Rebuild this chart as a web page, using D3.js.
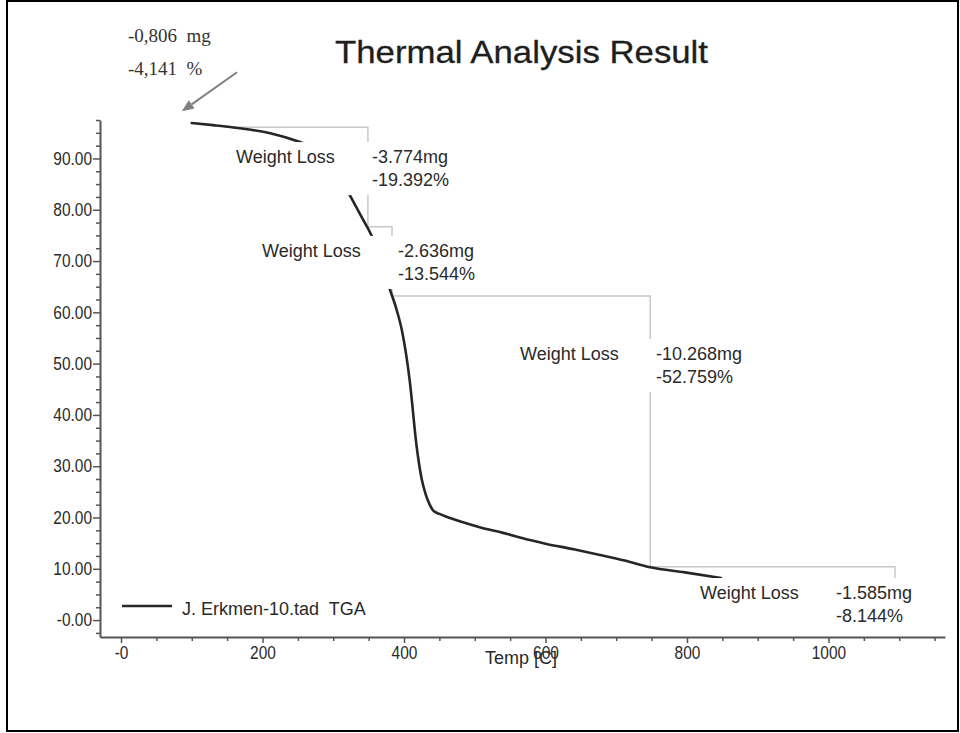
<!DOCTYPE html>
<html>
<head>
<meta charset="utf-8">
<script src="https://cdn.jsdelivr.net/npm/d3@7"></script>
<style>
  html, body { margin: 0; padding: 0; background: #fff; }
  svg { display: block; font-family: "Liberation Sans", Arial, sans-serif; }
</style>
</head>
<body>
<svg id="chart" width="960" height="733"></svg>
<script>
// TGA run: sample temperature (°C) and remaining mass (%)
const temps   = [100, 130, 168, 211, 253, 270, 290, 305, 324, 340, 355, 368, 380, 390, 397, 408, 418, 425, 430, 436, 441, 450, 461, 480, 507, 540, 578, 600, 640, 677, 712, 748, 797, 848];
const weights = [96.9, 96.5, 95.9, 94.9, 93.2, 92.3, 90.2, 87.6, 82.7, 78.6, 74.7, 69.8, 64.5, 60.3, 56.5, 46.8, 33.7, 27.5, 24.8, 22.6, 21.4, 20.7, 20.1, 19.2, 18.1, 17.0, 15.6, 14.9, 13.8, 12.7, 11.6, 10.3, 9.3, 8.2];

// Axis ticks
const yMajorTicks = [0, 10, 20, 30, 40, 50, 60, 70, 80, 90];
const xMajorTicks = [0, 200, 400, 600, 800, 1000];

// Weight-loss steps: analysed temperature ranges and the reported losses
const stepFrom      = [147, 349, 383, 748];
const stepTo        = [349, 383, 748, 1094];
const stepStartMass = 96.1;
const stepLossMg    = ["-3.774mg", "-2.636mg", "-10.268mg", "-1.585mg"];
const stepLossPct   = [19.392, 13.544, 52.759, 8.144];

// Hand-written note on the initial (moisture) loss
const initialLossMg  = "-0,806  mg";
const initialLossPct = "-4,141  %";

const seriesName = "J. Erkmen-10.tad  TGA";
const chartTitle = "Thermal Analysis Result";
const xTitle = "Temp [C]";

// ---- layout ----
const labelAt    = [354.8, 391.5, 756.2, 1010.6]; // °C where each value column starts
const labelLevel = [89.1, 70.8, 50.7, 4.1];       // mass level of each first text line
const lineGap = 23;
const condense = 0.86;
const textColor = "#2a2a2a";

const svg = d3.select("#chart");
const x = d3.scaleLinear().domain([-29.7, 1164.7]).range([100, 945]);
const y = d3.scaleLinear().domain([-3.3, 97.5]).range([637, 120]);

// outer frame
svg.append("rect")
  .attr("x", 7).attr("y", 1).attr("width", 951).attr("height", 730)
  .attr("fill", "none").attr("stroke", "#000").attr("stroke-width", 2);

// title
svg.append("text")
  .attr("x", 335).attr("y", 63)
  .attr("font-size", 32).attr("fill", "#1e1e1e")
  .attr("stroke", "#1e1e1e").attr("stroke-width", 0.3)
  .attr("textLength", 373).attr("lengthAdjust", "spacingAndGlyphs")
  .text(chartTitle);

// ---- axes ----
const axisColor = "#555";
const yMinor = d3.range(-2.5, 97.6, 2.5).filter(v => Math.abs(v % 10) > 1e-6);
const xMinor = d3.range(0, 1151, 50).filter(v => v % 200 !== 0);

function styleAxis(g) {
  g.attr("font-family", "'Liberation Sans', Arial, sans-serif").attr("font-size", 18);
  g.select(".domain").attr("stroke", axisColor).attr("stroke-width", 2);
  g.selectAll(".tick line").attr("stroke", axisColor).attr("stroke-width", 1.5);
  g.selectAll(".tick text").attr("fill", textColor);
}

const yMinorG = svg.append("g").attr("transform", "translate(100,0)")
  .call(d3.axisLeft(y).tickValues(yMinor).tickSize(4).tickSizeOuter(0).tickFormat(""));
yMinorG.select(".domain").remove();
styleAxis(yMinorG);

const yAxisG = svg.append("g").attr("transform", "translate(100,0)")
  .call(d3.axisLeft(y).tickValues(yMajorTicks).tickSize(7).tickSizeOuter(0).tickPadding(1)
    .tickFormat(d => d === 0 ? "-0.00" : d3.format(".2f")(d)));
styleAxis(yAxisG);
yAxisG.selectAll(".tick text")
  .attr("x", -8 / condense)
  .attr("transform", `scale(${condense},1)`);

const xMinorG = svg.append("g").attr("transform", "translate(0,637)")
  .call(d3.axisBottom(x).tickValues(xMinor).tickSize(4).tickSizeOuter(0).tickFormat(""));
xMinorG.select(".domain").remove();
styleAxis(xMinorG);

const xAxisG = svg.append("g").attr("transform", "translate(0,637)")
  .call(d3.axisBottom(x).tickValues(xMajorTicks).tickSize(6).tickSizeOuter(0).tickPadding(3)
    .tickFormat(d => d === 0 ? "-0" : String(d)));
styleAxis(xAxisG);
xAxisG.selectAll(".tick text").attr("transform", `scale(${condense},1)`);

// x-axis title
svg.append("text")
  .attr("x", 521).attr("y", 664)
  .attr("text-anchor", "middle")
  .attr("font-size", 18).attr("fill", textColor)
  .text(xTitle);

// ---- weight-loss brackets ----
const levels = [stepStartMass];
stepLossPct.forEach((p, i) => levels.push(levels[i] - p));

svg.append("g").selectAll("path")
  .data(stepFrom)
  .join("path")
  .attr("d", (d, i) => `M${x(d)},${y(levels[i])}H${x(stepTo[i])}V${y(levels[i + 1])}`)
  .attr("fill", "none")
  .attr("stroke", "#c8c8c8")
  .attr("stroke-width", 1.5);

// ---- TGA curve ----
const tga = d3.line()
  .x((d, i) => x(temps[i]))
  .y(d => y(d))
  .curve(d3.curveMonotoneX);

svg.append("path")
  .datum(weights)
  .attr("d", tga)
  .attr("fill", "none")
  .attr("stroke", "#262626")
  .attr("stroke-width", 2.6)
  .attr("stroke-linejoin", "round")
  .attr("stroke-linecap", "round");

// ---- step labels (white boxes over the curve) ----
stepLossMg.forEach((mg, i) => {
  const g = svg.append("g").attr("font-size", 18).attr("fill", textColor);
  const vx = x(labelAt[i]);
  const by = y(labelLevel[i]);
  const box = g.append("rect").attr("fill", "#fff");
  g.append("text").attr("x", vx - 136).attr("y", by).text("Weight Loss");
  const t1 = g.append("text").attr("x", vx).attr("y", by).text(mg);
  const t2 = g.append("text").attr("x", vx).attr("y", by + lineGap)
    .text(`-${d3.format(".3f")(stepLossPct[i])}%`);
  const right = Math.max(vx + t1.node().getComputedTextLength(), vx + t2.node().getComputedTextLength());
  box.attr("x", vx - 142).attr("y", by - 21)
    .attr("width", right + 6 - (vx - 142))
    .attr("height", lineGap + 30);
});

// ---- legend ----
const legendY = 606;
svg.append("line")
  .attr("x1", 122).attr("x2", 172).attr("y1", legendY).attr("y2", legendY)
  .attr("stroke", "#262626").attr("stroke-width", 2.6);
svg.append("text")
  .attr("x", 182).attr("y", legendY + 9)
  .attr("font-size", 18).attr("fill", textColor)
  .attr("xml:space", "preserve").style("white-space", "pre")
  .text(seriesName);

// ---- initial loss note with arrow ----
const note = svg.append("g")
  .attr("font-family", "'Liberation Serif', 'Times New Roman', serif")
  .attr("font-size", 19).attr("fill", "#333");
note.append("text").attr("x", x(9.9)).attr("y", y(112.7))
  .attr("xml:space", "preserve").style("white-space", "pre").text(initialLossMg);
note.append("text").attr("x", x(9.9)).attr("y", y(106.2))
  .attr("xml:space", "preserve").style("white-space", "pre").text(initialLossPct);

const tail = [x(164), y(106.8)];
const tip = [x(86), y(99.2)];
const ang = Math.atan2(tip[1] - tail[1], tip[0] - tail[0]);
const headLen = 12, headHalf = 5;
const base = [tip[0] - headLen * Math.cos(ang), tip[1] - headLen * Math.sin(ang)];
svg.append("line")
  .attr("x1", tail[0]).attr("y1", tail[1]).attr("x2", base[0]).attr("y2", base[1])
  .attr("stroke", "#808080").attr("stroke-width", 2);
svg.append("path")
  .attr("d", `M${tip[0]},${tip[1]}` +
    `L${base[0] + headHalf * Math.sin(ang)},${base[1] - headHalf * Math.cos(ang)}` +
    `L${base[0] - headHalf * Math.sin(ang)},${base[1] + headHalf * Math.cos(ang)}Z`)
  .attr("fill", "#808080");
</script>
</body>
</html>
